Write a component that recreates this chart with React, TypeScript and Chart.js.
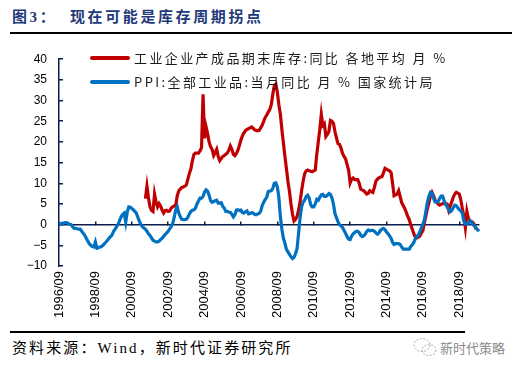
import React, { useEffect, useRef } from 'react';
import { Chart, registerables } from 'chart.js';

Chart.register(...registerables);

// ---------- data ----------
const firstMonth = { year: 1996, month: 9 };
const lastMonth = { year: 2019, month: 10 };
const tickEvery = 24; // a label every two years (1996/09, 1998/09, ...)

// PPI: all industrial products, YoY % (1996/09 .. 2019/10)
const ppi1996 = [0.1, 0.2, 0.3, 0.4];
const ppi1997 = [0.5, 0.5, 0.3, 0.1, 0.0, -0.5, -0.9, -0.9, -1.0, -1.1, -1.1, -1.6];
const ppi1998 = [-2.1, -2.6, -3.3, -4.0, -4.6, -5.0, -5.3, -5.4, -4.2, -5.7, -5.6, -5.4];
const ppi1999 = [-5.3, -5.0, -4.6, -4.2, -3.8, -3.3, -2.9, -2.5, -1.6, -1.1, -0.5, 0.1];
const ppi2000 = [1.0, 1.9, 2.5, 2.8, 0.6, 3.0, 4.3, 4.2, 3.9, 3.6, 3.2, 2.8];
const ppi2001 = [1.8, 0.8, 0.1, -0.5, -0.8, -1.1, -1.6, -2.2, -2.6, -3.2, -3.8, -4.0];
const ppi2002 = [-4.2, -4.2, -4.0, -3.6, -3.3, -2.8, -2.4, -2.0, -1.6, -1.0, -0.5, 0.3];
const ppi2003 = [1.8, 3.6, 4.3, 2.8, 1.9, 1.3, 1.2, 1.2, 1.3, 1.8, 2.6, 3.2];
const ppi2004 = [3.5, 3.6, 4.0, 5.0, 5.7, 6.4, 6.4, 6.8, 7.9, 8.4, 8.1, 7.1];
const ppi2005 = [5.8, 5.4, 5.6, 5.8, 5.9, 5.2, 5.2, 5.3, 4.4, 4.0, 3.2, 3.2];
const ppi2006 = [3.0, 3.0, 2.5, 1.9, 2.4, 3.5, 3.6, 3.4, 3.5, 2.9, 2.8, 3.1];
const ppi2007 = [3.3, 2.6, 2.7, 2.9, 2.8, 2.5, 2.4, 2.6, 2.7, 3.2, 4.6, 5.4];
const ppi2008 = [6.1, 6.6, 8.0, 8.1, 8.2, 8.8, 10.0, 10.1, 9.1, 6.6, 2.0, -1.1];
const ppi2009 = [-3.3, -4.5, -6.0, -6.6, -7.2, -7.8, -8.2, -7.9, -7.0, -5.8, -2.1, 1.7];
const ppi2010 = [4.3, 5.4, 5.9, 6.8, 7.1, 6.4, 4.8, 4.3, 4.3, 5.0, 6.1, 5.9];
const ppi2011 = [6.6, 7.2, 7.3, 6.8, 6.8, 7.1, 7.5, 7.3, 6.5, 5.0, 2.7, 1.7];
const ppi2012 = [0.7, 0.0, -0.3, -0.7, -1.4, -2.1, -2.9, -3.5, -3.6, -2.8, -2.2, -1.9];
const ppi2013 = [-1.6, -1.6, -1.9, -2.6, -2.9, -2.7, -2.3, -1.6, -1.3, -1.5, -1.4, -1.4];
const ppi2014 = [-1.6, -2.0, -2.3, -2.0, -1.4, -1.1, -0.9, -1.2, -1.8, -2.2, -2.7, -3.3];
const ppi2015 = [-4.3, -4.8, -4.6, -4.6, -4.6, -4.8, -5.4, -5.9, -5.9, -5.9, -5.9, -5.9];
const ppi2016 = [-5.3, -4.9, -4.3, -3.4, -2.8, -2.6, -1.7, -0.8, 0.1, 1.2, 3.3, 5.5];
const ppi2017 = [6.9, 7.8, 7.6, 6.4, 5.5, 5.5, 5.5, 6.3, 6.9, 6.9, 5.8, 4.9];
const ppi2018 = [4.3, 3.7, 3.1, 3.4, 4.1, 4.7, 4.6, 4.1, 3.6, 3.3, 2.7, 0.9];
const ppi2019 = [0.1, 0.1, 0.4, 0.9, 0.6, 0.0, -0.3, -0.8, -1.2, -1.6];

// Finished-goods inventory of industrial enterprises, YoY %, regional average (2001/06 .. 2019/08)
const inventoryStart = '2001/06';
const inv2001 = [6.3, 9.3, 6.5, 4.3, 3.5, 3.2, 7.4];
const inv2002 = [5.5, 4.3, 5.1, 4.5, 3.5, 2.8, 3.4, 3.5, 3.2, 3.3, 4.0, 4.3];
const inv2003 = [4.5, 4.7, 7.0, 8.2, 8.6, 9.0, 9.1, 9.3, 9.6, 11.0, 12.4, 13.5];
const inv2004 = [15.5, 17.0, 17.3, 17.3, 17.3, 17.8, 18.6, 31.5, 20.9, 23.6, 22.0, 20.0];
const inv2005 = [18.8, 18.2, 16.7, 17.4, 18.2, 16.5, 15.5, 16.0, 16.5, 16.7, 17.0, 17.3];
const inv2006 = [18.0, 19.0, 18.2, 17.0, 16.7, 17.2, 18.0, 19.2, 20.5, 21.5, 22.2, 22.8];
const inv2007 = [23.0, 23.2, 23.4, 23.6, 23.3, 22.9, 22.8, 22.7, 22.8, 23.4, 24.0, 25.0];
const inv2008 = [25.9, 26.5, 27.2, 27.8, 29.0, 31.5, 33.6, 34.0, 32.0, 29.0, 26.7, 23.0];
const inv2009 = [19.7, 16.5, 13.5, 10.5, 8.0, 5.0, 2.5, 0.9, 1.3, 2.0, 3.5, 5.5];
const inv2010 = [8.2, 10.5, 12.3, 13.0, 13.2, 13.0, 12.9, 12.8, 13.0, 13.2, 17.0, 20.0];
const inv2011 = [23.0, 26.7, 24.0, 24.4, 21.3, 21.8, 22.5, 25.2, 25.0, 24.5, 22.5, 21.0];
const inv2012 = [19.6, 19.4, 18.5, 17.2, 16.5, 15.9, 14.5, 13.2, 10.1, 11.0, 11.3, 10.9];
const inv2013 = [10.9, 10.9, 10.0, 8.6, 8.4, 8.2, 7.8, 7.4, 7.6, 8.2, 8.0, 7.8];
const inv2014 = [9.0, 10.5, 11.0, 11.3, 11.5, 11.6, 12.5, 13.6, 13.4, 13.2, 13.0, 12.6];
const inv2015 = [10.0, 7.0, 7.2, 7.4, 8.2, 6.8, 5.3, 4.6, 3.9, 3.0, 2.0, 1.2];
const inv2016 = [0.0, -1.1, -2.2, -3.0, -3.2, -3.0, -2.8, -2.0, -1.5, 0.5, 2.2, 3.9];
const inv2017 = [5.3, 7.0, 7.8, 7.0, 6.0, 5.5, 5.0, 4.7, 4.9, 5.1, 5.1, 5.1];
const inv2018 = [5.0, 3.5, 4.5, 5.5, 6.6, 7.4, 7.8, 7.6, 7.4, 6.0, 3.9, 2.0];
const inv2019 = [-0.7, 3.2, 1.5, 0.9, 0.8, 0.5, 0.0, -1.1];

const yMin = -10;
const yMax = 40;
const yStep = 5;

const invName = '工业企业产成品期末库存:同比 各地平均 月 %';
const ppiName = 'PPI:全部工业品:当月同比 月 % 国家统计局';
const titleText = '图3：  现在可能是库存周期拐点';
const sourceText = '资料来源：Wind，新时代证券研究所';
const watermarkText = '新时代策略';

// ---------- derived tables ----------
const pad2 = (n: number) => (n < 10 ? '0' + n : String(n));
const categories: string[] = [];
for (let y = firstMonth.year, m = firstMonth.month; y < lastMonth.year || (y === lastMonth.year && m <= lastMonth.month); ) {
  categories.push(y + '/' + pad2(m));
  m++;
  if (m > 12) { m = 1; y++; }
}

const ppiSeries = [
  ...ppi1996, ...ppi1997, ...ppi1998, ...ppi1999, ...ppi2000, ...ppi2001, ...ppi2002, ...ppi2003,
  ...ppi2004, ...ppi2005, ...ppi2006, ...ppi2007, ...ppi2008, ...ppi2009, ...ppi2010, ...ppi2011,
  ...ppi2012, ...ppi2013, ...ppi2014, ...ppi2015, ...ppi2016, ...ppi2017, ...ppi2018, ...ppi2019,
];
const invValues = [
  ...inv2001, ...inv2002, ...inv2003, ...inv2004, ...inv2005, ...inv2006, ...inv2007, ...inv2008,
  ...inv2009, ...inv2010, ...inv2011, ...inv2012, ...inv2013, ...inv2014, ...inv2015, ...inv2016,
  ...inv2017, ...inv2018, ...inv2019,
];
const invOffset = categories.indexOf(inventoryStart);
const invSeries: (number | null)[] = categories.map((_, i) => {
  const k = i - invOffset;
  return k >= 0 && k < invValues.length ? invValues[k] : null;
});

const RED = '#C00000';
const BLUE = '#0070C0';
const AXIS = '#0B1F4E';
const CLEAR = 'rgba(0,0,0,0)';

export default function App() {
  const ref = useRef<HTMLCanvasElement | null>(null);

  useEffect(() => {
    document.body.style.margin = '0';
    if (!ref.current) return;
    const chart = new Chart(ref.current, {
      type: 'line',
      data: {
        labels: categories,
        datasets: [
          {
            label: invName,
            data: invSeries,
            borderColor: RED,
            backgroundColor: RED,
            borderWidth: 3.2,
            pointRadius: 0,
            tension: 0,
            spanGaps: false,
            order: 2,
          },
          {
            label: ppiName,
            data: ppiSeries,
            borderColor: BLUE,
            backgroundColor: BLUE,
            borderWidth: 3.2,
            pointRadius: 0,
            tension: 0,
            order: 1,
          },
        ],
      },
      options: {
        animation: false,
        responsive: false,
        layout: { padding: { left: 0, right: 43, top: 10, bottom: 0 } },
        plugins: { legend: { display: false }, tooltip: { enabled: false }, title: { display: false } },
        scales: {
          x: {
            type: 'category',
            position: 'bottom',
            grid: { display: false, drawTicks: false },
            border: { display: false },
            ticks: {
              autoSkip: false,
              minRotation: 90,
              maxRotation: 90,
              padding: 5,
              color: '#000',
              font: { family: '"Liberation Sans", Arial, sans-serif', size: 13 },
              callback: (_v: any, i: number) => (i % tickEvery === 0 ? categories[i] : ''),
            },
            afterFit: (s: any) => { s.height = 64; },
          },
          x2: {
            type: 'category',
            position: { y: 0 } as any,
            grid: {
              display: true,
              drawOnChartArea: false,
              drawTicks: true,
              tickLength: -4,
              lineWidth: 1.5,
              color: (ctx: any) => (ctx.index % tickEvery === 0 ? AXIS : CLEAR),
            },
            border: { display: true, color: AXIS, width: 1.5 },
            ticks: { display: false, autoSkip: false },
          },
          y: {
            type: 'linear',
            position: 'left',
            min: yMin,
            max: yMax,
            grid: { display: false, drawTicks: false },
            border: { display: true, color: AXIS, width: 1.5 },
            ticks: {
              stepSize: yStep,
              padding: 12,
              color: '#000',
              font: { family: '"Liberation Sans", Arial, sans-serif', size: 12 },
              callback: (v: any) => (Number(v) < 0 ? '\u2212' + Math.abs(Number(v)) : String(v)),
            },
            afterFit: (s: any) => { s.width = 59; },
          },
          y2: {
            type: 'linear',
            position: { x: 0 } as any,
            min: yMin,
            max: yMax,
            grid: {
              display: true,
              drawOnChartArea: false,
              drawTicks: true,
              tickLength: -4,
              lineWidth: 1.5,
              color: AXIS,
            },
            border: { display: false },
            ticks: { display: false, stepSize: yStep },
          },
        },
      } as any,
    });
    return () => chart.destroy();
  }, []);

  const legendText: React.CSSProperties = {
    position: 'absolute',
    left: 134,
    fontFamily: '"Noto Sans CJK SC", sans-serif',
    fontSize: 13,
    letterSpacing: 2.4,
    color: '#1a1a1a',
    whiteSpace: 'nowrap',
    lineHeight: '16px',
  };

  return (
    <div style={{ position: 'fixed', left: 0, top: 0, width: 522, height: 365, background: '#fff', overflow: 'hidden' }}>
      <div
        style={{
          position: 'absolute', left: 12, top: 7, fontFamily: '"Liberation Serif", "Noto Sans CJK SC", serif',
          fontWeight: 700, fontSize: 15, color: '#1F3A7A', whiteSpace: 'pre', lineHeight: '20px', letterSpacing: 2.6,
        }}
      >
        {titleText}
      </div>
      <div style={{ position: 'absolute', left: 10, top: 32, width: 502, height: 1.5, background: '#000' }} />

      <div style={{ position: 'absolute', left: 0, top: 40, width: 522, height: 290 }}>
        <canvas ref={ref} width={522} height={290} style={{ width: 522, height: 290, display: 'block' }} />
      </div>

      <div style={{ position: 'absolute', left: 90, top: 56, width: 40, height: 4, background: RED, borderRadius: 2 }} />
      <div style={{ ...legendText, top: 50 }}>{invName}</div>
      <div style={{ position: 'absolute', left: 90, top: 80, width: 40, height: 4, background: BLUE, borderRadius: 2 }} />
      <div style={{ ...legendText, top: 74 }}>{ppiName}</div>

      <div style={{ position: 'absolute', left: 10, top: 331, width: 455, height: 1.5, background: '#000' }} />
      <div
        style={{
          position: 'absolute', left: 12, top: 338, fontFamily: '"Liberation Serif", "Noto Sans CJK SC", serif',
          fontSize: 15, color: '#000', whiteSpace: 'nowrap', lineHeight: '20px', letterSpacing: 2.1,
        }}
      >
        {sourceText}
      </div>
      <svg style={{ position: 'absolute', left: 412, top: 336 }} width={26} height={22}>
        <ellipse cx={10} cy={9} rx={8} ry={6.5} fill="none" stroke="#aaa" strokeWidth={1} strokeDasharray="2 1.5" />
        <ellipse cx={17} cy={14} rx={7} ry={5.5} fill="none" stroke="#aaa" strokeWidth={1} strokeDasharray="2 1.5" />
      </svg>
      <div
        style={{
          position: 'absolute', left: 440, top: 339, fontFamily: '"Noto Sans CJK SC", sans-serif',
          fontSize: 13, color: '#8a8a8a', whiteSpace: 'nowrap', lineHeight: '18px',
        }}
      >
        {watermarkText}
      </div>
    </div>
  );
}
